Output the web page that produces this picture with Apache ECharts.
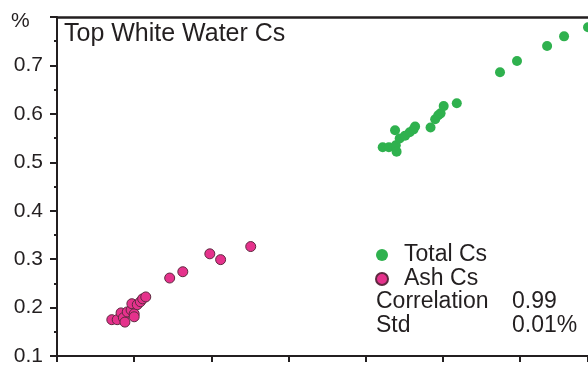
<!DOCTYPE html>
<html>
<head>
<meta charset="utf-8">
<script src="https://cdn.jsdelivr.net/npm/echarts@6/dist/echarts.min.js"></script>
<style>
  html, body { margin: 0; padding: 0; background: #fff; }
  #chart { width: 588px; height: 367px; }
</style>
</head>
<body>
<div id="chart"></div>
<script>
// Total Cs samples: [x, %]
const totalCs = [
  [4.22, 0.531], [4.30, 0.531], [4.38, 0.566], [4.39, 0.535], [4.40, 0.522],
  [4.44, 0.549], [4.51, 0.555], [4.57, 0.562], [4.62, 0.568], [4.64, 0.574],
  [4.84, 0.572], [4.90, 0.589], [4.94, 0.597], [4.97, 0.601], [5.01, 0.616],
  [5.18, 0.622], [5.74, 0.686], [5.96, 0.709], [6.35, 0.740], [6.57, 0.760],
  [6.88, 0.779]
];

// Ash Cs samples: [x, %]
const ashCs = [
  [0.71, 0.175], [0.78, 0.175], [0.83, 0.189], [0.86, 0.179], [0.88, 0.170],
  [0.91, 0.191], [0.96, 0.195], [0.97, 0.208], [1.00, 0.187], [1.00, 0.181],
  [1.04, 0.206], [1.08, 0.212], [1.11, 0.218], [1.15, 0.222], [1.46, 0.261],
  [1.63, 0.274], [1.98, 0.311], [2.12, 0.299], [2.51, 0.326]
];

const seriesNames = ['Total Cs', 'Ash Cs'];
const chartTitle = 'Top White Water Cs';
const unitLabel = '%';
const statLabels = ['Correlation', 'Std'];
const statValues = ['0.99', '0.01%'];

// visible part of the x range (the plot continues past the right edge)
const X_MIN = 0;
const X_MAX = 6.88;

const FONT = '"Liberation Sans", Arial, sans-serif';
const INK = '#231f20';
const GREEN = '#2fb14e';
const PINK = '#e5328c';

const chart = echarts.init(document.getElementById('chart'), null, { renderer: 'canvas' });

chart.setOption({
  backgroundColor: '#ffffff',
  animation: false,
  title: {
    text: chartTitle,
    left: 64,
    top: 22,
    padding: 0,
    textStyle: { fontFamily: FONT, fontSize: 25, fontWeight: 'normal', color: INK }
  },
  legend: {
    data: seriesNames,
    orient: 'vertical',
    left: 375,
    top: 243,
    padding: 0,
    itemGap: 0,
    itemWidth: 12,
    itemHeight: 12,
    icon: 'circle',
    textStyle: { fontFamily: FONT, fontSize: 23, color: INK, lineHeight: 24, padding: [0, 0, 0, 11] }
  },
  graphic: [
    { type: 'text', left: 11, top: 11, style: { text: unitLabel, font: '21px ' + FONT, fill: INK } },
    { type: 'text', left: 376, top: 290, style: { text: statLabels[0], font: '23px ' + FONT, fill: INK } },
    { type: 'text', left: 512, top: 290, style: { text: statValues[0], font: '23px ' + FONT, fill: INK } },
    { type: 'text', left: 376, top: 314, style: { text: statLabels[1], font: '23px ' + FONT, fill: INK } },
    { type: 'text', left: 512, top: 314, style: { text: statValues[1], font: '23px ' + FONT, fill: INK } }
  ],
  grid: { left: 57, right: 0, top: 17, bottom: 11, containLabel: false },
  xAxis: [
    {
      type: 'value',
      min: X_MIN, max: X_MAX, interval: 1,
      position: 'bottom',
      axisLine: { show: true, lineStyle: { color: INK, width: 2 } },
      axisTick: { show: true, inside: false, length: 6, lineStyle: { color: INK, width: 2 } },
      axisLabel: { show: false },
      splitLine: { show: false }
    },
    {
      type: 'value',
      min: X_MIN, max: X_MAX, interval: 1,
      position: 'top',
      axisLine: { show: true, lineStyle: { color: INK, width: 2.5 } },
      axisTick: { show: false },
      axisLabel: { show: false },
      splitLine: { show: false }
    }
  ],
  yAxis: {
    type: 'value',
    min: 0.1, max: 0.8, interval: 0.1,
    axisLine: { show: true, lineStyle: { color: INK, width: 2 } },
    axisTick: { show: true, inside: false, length: 7, lineStyle: { color: INK, width: 2 } },
    minorTick: { show: true, splitNumber: 2, length: 3, lineStyle: { color: INK, width: 2 } },
    axisLabel: {
      margin: 14,
      fontFamily: FONT, fontSize: 21, color: INK,
      formatter: v => (Math.abs(v - 0.8) < 1e-6 ? '' : v.toFixed(1))
    },
    splitLine: { show: false }
  },
  series: [
    {
      name: seriesNames[0],
      type: 'scatter',
      data: totalCs,
      symbol: 'circle',
      symbolSize: 10,
      clip: false,
      itemStyle: { color: GREEN, opacity: 1 }
    },
    {
      name: seriesNames[1],
      type: 'scatter',
      data: ashCs,
      symbol: 'circle',
      symbolSize: 10,
      itemStyle: { color: PINK, borderColor: '#5e2a40', borderWidth: 1, opacity: 1 }
    }
  ]
});
</script>
</body>
</html>
